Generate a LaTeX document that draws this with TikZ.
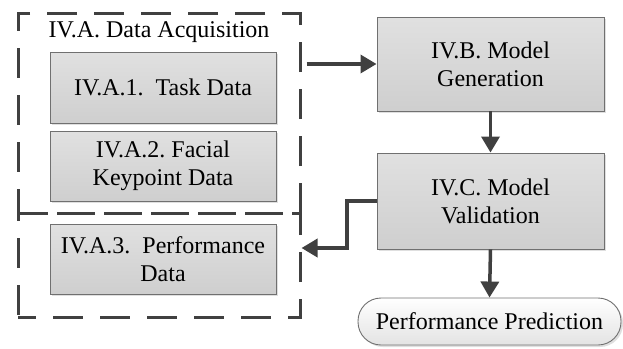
\documentclass[tikz,border=0pt]{standalone}
\usepackage{fontspec}
\setmainfont{Liberation Serif}
\usetikzlibrary{arrows.meta,shadows,calc}
\definecolor{ln}{HTML}{404040}
\definecolor{bd}{HTML}{707070}
\tikzset{
  every node/.style={font=\fontsize{24}{28}\selectfont, align=center, inner sep=0pt},
  graybox/.style={draw=bd, line width=0.9pt, top color=gray!24, bottom color=gray!38,
    drop shadow={shadow xshift=2pt, shadow yshift=-2pt, fill=black!25, opacity=0.5}},
  pill/.style={draw=bd, line width=0.9pt, rounded corners=23pt, top color=white, bottom color=gray!22,
    drop shadow={shadow xshift=2pt, shadow yshift=-2pt, fill=black!25, opacity=0.5}},
  dbox/.style={draw=ln, line width=3pt, dash pattern=on 30pt off 17pt},
  conn/.style={draw=ln, line width=3.5pt, -{Triangle[length=16pt,width=18pt]}},
}
\begin{document}
\frenchspacing
\begin{tikzpicture}[x=1pt,y=-1pt]
\useasboundingbox (0,0) rectangle (623,348);
\node[dbox, minimum width=282pt, minimum height=200pt] (daq) at (159,113) {};
\node[dbox, dash phase=12pt, minimum width=282pt, minimum height=104pt] (pfx) at (159,265) {};
\node (title) at (159,32) {IV.A. Data Acquisition};
\node[graybox, minimum width=226pt, minimum height=71pt] (task) at (163,87.5) {IV.A.1.\ \ Task Data};
\node[graybox, minimum width=226pt, minimum height=70pt] (face) at (163,166) {IV.A.2. Facial\\Keypoint Data};
\node[graybox, minimum width=226pt, minimum height=70pt] (perf) at (163,259) {IV.A.3.\ \ Performance\\Data};
\node[graybox, minimum width=227pt, minimum height=94pt] (gen) at (490.5,64) {IV.B. Model\\Generation};
\node[graybox, minimum width=227pt, minimum height=96pt] (val) at (490.5,201) {IV.C. Model\\Validation};
\node[pill, minimum width=263pt, minimum height=47pt] (pred) at (489.5,321.5) {Performance Prediction};
\coordinate (b) at (347,248);
\draw[conn, shorten <=5pt] (daq.east |- gen.west) -- (gen.west);
\draw[conn] (gen.south) -- (val.north);
\draw[conn] (val.west) -| (b) -- (pfx.east |- b);
\draw[conn] (val.south) -- (pred.north);
\end{tikzpicture}
\end{document}
